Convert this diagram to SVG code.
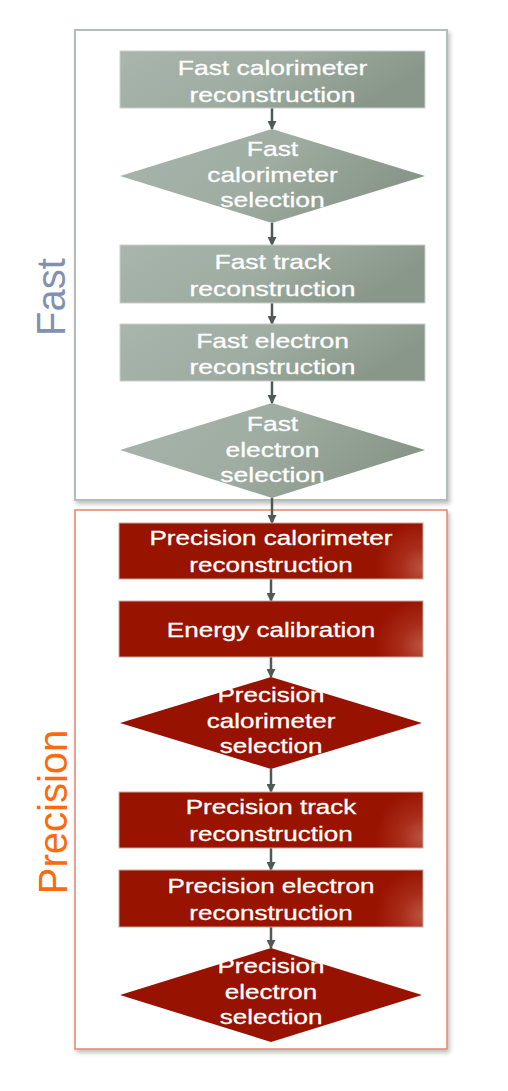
<svg xmlns="http://www.w3.org/2000/svg" width="508" height="1091" viewBox="0 0 508 1091">
<defs>
<linearGradient id="gFast" x1="0" y1="0" x2="1" y2="0.3">
<stop offset="0" stop-color="#a9b5ad"/>
<stop offset="0.55" stop-color="#9eaca1"/>
<stop offset="1" stop-color="#889789"/>
</linearGradient>
<radialGradient id="gPrec" cx="1" cy="0.8" r="1" gradientTransform="translate(1,0.8) scale(0.16,0.85) translate(-1,-0.8)">
<stop offset="0" stop-color="#bb5541"/>
<stop offset="0.45" stop-color="#a92c1a"/>
<stop offset="1" stop-color="#981300"/>
</radialGradient>
<filter id="sh" x="-5%" y="-5%" width="110%" height="110%">
<feDropShadow dx="2" dy="3" stdDeviation="2" flood-color="#000" flood-opacity="0.25"/>
</filter>
<marker id="ah" markerWidth="9" markerHeight="9" refX="8" refY="4.5" orient="auto" markerUnits="userSpaceOnUse">
<path d="M0,0 L9,4.5 L0,9 Z" fill="#4e5a54"/>
</marker>
</defs>
<style>
.fr{fill:url(#gFast);stroke:#c9cfcb;stroke-width:1}
.pr{fill:url(#gPrec);stroke:#c9a9a0;stroke-width:1}
.fd{fill:url(#gFast)}
.pd{fill:#971200}
.t{font-family:"Liberation Sans",Arial,sans-serif;font-size:20.5px;fill:#ffffff;text-anchor:middle;stroke:#ffffff;stroke-width:0.3}
.c{stroke:#4e5a54;stroke-width:2.5;fill:none;marker-end:url(#ah)}
</style>

<g id="fast-group">
<rect x="75" y="30" width="372" height="470" fill="#ffffff" stroke="#b5bdb9" stroke-width="2" filter="url(#sh)"/>
<text x="0" y="0" transform="translate(65,297) rotate(-90)" font-family="'Liberation Sans',Arial,sans-serif" font-size="40" fill="#8391b0" text-anchor="middle">Fast</text>
</g>
<g id="precision-group">
<rect x="75" y="510" width="372" height="539" fill="#ffffff" stroke="#e8846e" stroke-width="1.5" filter="url(#sh)"/>
<text x="0" y="0" transform="translate(67,812) rotate(-90)" font-family="'Liberation Sans',Arial,sans-serif" font-size="40" fill="#fb6a0e" text-anchor="middle">Precision</text>
</g>

<g id="connectors">
<line class="c" x1="272" y1="108" x2="272" y2="129"/>
<line class="c" x1="272" y1="223" x2="272" y2="245"/>
<line class="c" x1="272" y1="303" x2="272" y2="324"/>
<line class="c" x1="272" y1="381" x2="272" y2="403"/>
<line class="c" x1="272" y1="498" x2="272" y2="523"/>
<line class="c" x1="271" y1="579" x2="271" y2="601"/>
<line class="c" x1="271" y1="657" x2="271" y2="677"/>
<line class="c" x1="271" y1="769" x2="271" y2="792"/>
<line class="c" x1="271" y1="848" x2="271" y2="870"/>
<line class="c" x1="271" y1="927" x2="271" y2="948"/>
</g>

<g id="fast-calo-reco">
<rect class="fr" x="120" y="51" width="305" height="57"/>
<g transform="translate(272.5,0) scale(1.29,1)"><text class="t" x="0" y="75">Fast calorimeter</text><text class="t" x="0" y="102">reconstruction</text></g>
</g>
<g id="fast-calo-sel">
<polygon class="fd" points="272,129 425,176 272,223 120,176"/>
<g transform="translate(272.5,0) scale(1.29,1)"><text class="t" x="0" y="156">Fast</text><text class="t" x="0" y="182">calorimeter</text><text class="t" x="0" y="207">selection</text></g>
</g>
<g id="fast-track-reco">
<rect class="fr" x="120" y="245" width="305" height="58"/>
<g transform="translate(272.5,0) scale(1.29,1)"><text class="t" x="0" y="269">Fast track</text><text class="t" x="0" y="296">reconstruction</text></g>
</g>
<g id="fast-electron-reco">
<rect class="fr" x="120" y="324" width="305" height="57"/>
<g transform="translate(272.5,0) scale(1.29,1)"><text class="t" x="0" y="348">Fast electron</text><text class="t" x="0" y="374">reconstruction</text></g>
</g>
<g id="fast-electron-sel">
<polygon class="fd" points="272,403 425,450 272,498 120,450"/>
<g transform="translate(272.5,0) scale(1.29,1)"><text class="t" x="0" y="431">Fast</text><text class="t" x="0" y="457">electron</text><text class="t" x="0" y="482">selection</text></g>
</g>

<g id="prec-calo-reco">
<rect class="pr" x="119" y="523" width="304" height="56"/>
<g transform="translate(271,0) scale(1.27,1)"><text class="t" x="0" y="545">Precision calorimeter</text><text class="t" x="0" y="572">reconstruction</text></g>
</g>
<g id="energy-calib">
<rect class="pr" x="119" y="601" width="304" height="56"/>
<g transform="translate(271,0) scale(1.27,1)"><text class="t" x="0" y="637">Energy calibration</text></g>
</g>
<g id="prec-calo-sel">
<polygon class="pd" points="271,677 422,723 271,769 120,723"/>
<g transform="translate(271,0) scale(1.27,1)"><text class="t" x="0" y="702">Precision</text><text class="t" x="0" y="728">calorimeter</text><text class="t" x="0" y="753">selection</text></g>
</g>
<g id="prec-track-reco">
<rect class="pr" x="119" y="792" width="304" height="56"/>
<g transform="translate(271,0) scale(1.27,1)"><text class="t" x="0" y="814">Precision track</text><text class="t" x="0" y="841">reconstruction</text></g>
</g>
<g id="prec-electron-reco">
<rect class="pr" x="119" y="870" width="304" height="57"/>
<g transform="translate(271,0) scale(1.27,1)"><text class="t" x="0" y="893">Precision electron</text><text class="t" x="0" y="920">reconstruction</text></g>
</g>
<g id="prec-electron-sel">
<polygon class="pd" points="271,948 422,995 271,1042 120,995"/>
<g transform="translate(271,0) scale(1.27,1)"><text class="t" x="0" y="973">Precision</text><text class="t" x="0" y="999">electron</text><text class="t" x="0" y="1024">selection</text></g>
</g>
</svg>
